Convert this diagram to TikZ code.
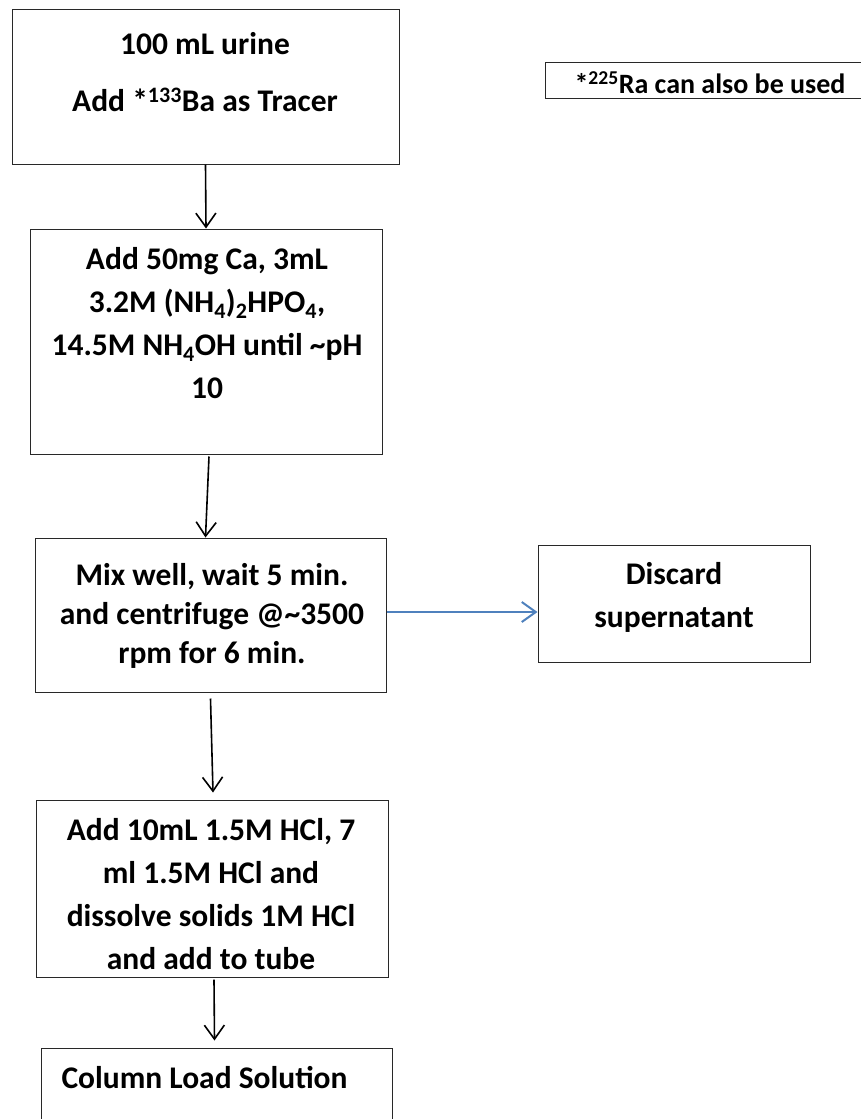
\documentclass[tikz,border=0pt]{standalone}
\usepackage{fontspec}
\setmainfont{Carlito}
\usetikzlibrary{arrows.meta}
\definecolor{flowblue}{RGB}{79,129,189}
\definecolor{edge}{RGB}{40,40,40}
\tikzset{
  box/.style={draw=edge, line width=1pt, rectangle, inner sep=0pt},
  txt/.style={align=center, inner sep=0pt, font=\bfseries\fontsize{31.5}{43}\selectfont},
  arr/.style={draw=black, line width=1.6pt, -{Straight Barb[length=14pt,width=20pt,line width=1.6pt]}},
  barr/.style={draw=flowblue, line width=2pt, -{Straight Barb[length=14pt,width=20pt,line width=2pt]}}
}
\begin{document}
\begin{tikzpicture}[x=1pt,y=-1pt]
\useasboundingbox (0,0) rectangle (860,1119);
\fill[white] (0,0) rectangle (860,1119);
% boxes
\node[box, minimum width=387pt, minimum height=155pt] (b1) at (205.5,86.5) {};
\node[box, minimum width=352pt, minimum height=225pt] (b2) at (206,341.5) {};
\node[box, minimum width=351pt, minimum height=154pt] (b3) at (210.5,615) {};
\node[box, minimum width=272pt, minimum height=117pt] (b6) at (674,603.5) {};
\node[box, minimum width=352pt, minimum height=177pt] (b4) at (212,888.5) {};
\node[box, minimum width=351pt, minimum height=90pt] (b5) at (216.5,1093) {};
\node[box, minimum width=340pt, minimum height=36pt] (note) at (715,80) {};
% texts
\node[txt, font=\bfseries\fontsize{31.5}{57}\selectfont] (t1) at (205,72)
  {100 mL urine\\Add *\textsuperscript{133}Ba as Tracer};
\node[txt] (t2) at (207,323)
  {Add 50mg Ca, 3mL\\3.2M (NH\textsubscript{4})\textsubscript{2}HPO\textsubscript{4},\\14.5M NH\textsubscript{4}OH until \textasciitilde pH\\10};
\node[txt, font=\bfseries\fontsize{31.5}{39}\selectfont] (t3) at (212,616)
  {Mix well, wait 5 min.\\and centrifuge @\textasciitilde 3500\\rpm for 6 min.};
\node[txt] (t6) at (674,597) {Discard\\supernatant};
\node[txt] (t4) at (211,894)
  {Add 10mL 1.5M HCl, 7\\ml 1.5M HCl and\\dissolve solids 1M HCl\\and add to tube};
\node[txt] (t5) at (204.5,1078) {Column Load Solution};
\node[txt, font=\bfseries\fontsize{28}{34}\selectfont] (t7) at (710,83) {*\textsuperscript{225}Ra can also be used};
% connectors
\draw[arr] (b1.south) -- (b2.north);
\draw[arr] ([xshift=3pt,yshift=-2pt]b2.south) -- ([xshift=-5pt]b3.north);
\draw[arr] ([yshift=-6pt]b3.south) -- ([xshift=1pt,yshift=7pt]b4.north);
\draw[arr] ([xshift=2pt,yshift=-2pt]b4.south) -- ([xshift=-2pt,yshift=7pt]b5.north);
\draw[barr] ([yshift=3pt]b3.east) -- ([yshift=-8.5pt]b6.west);
\end{tikzpicture}
\end{document}
